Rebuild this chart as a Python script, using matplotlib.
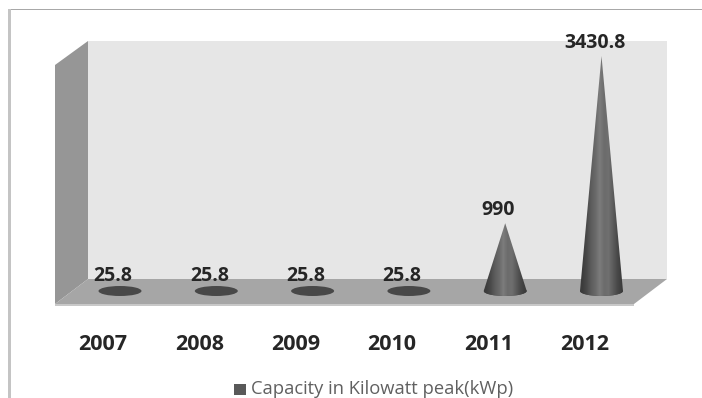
import matplotlib
matplotlib.use('Agg')
import matplotlib.pyplot as plt
import matplotlib.patches as patches
import matplotlib.colors as mcolors
import numpy as np

W, H = 702, 398

years = ['2007', '2008', '2009', '2010', '2011', '2012']
capacity = [25.8, 25.8, 25.8, 25.8, 990, 3430.8]
value_labels = ['25.8', '25.8', '25.8', '25.8', '990', '3430.8']
legend_label = 'Capacity in Kilowatt peak(kWp)'

# pixel layout of the fake 3d box
X0, DX = 120.0, 96.3     # first cone centre, spacing
Y0, YTOP = 291.0, 56.0   # zero level, level of the largest value
SCALE = (Y0 - YTOP) / 3430.8


def px(x, y):
    # pixel position to data position
    return (x - X0) / DX, (Y0 - y) / SCALE


def poly(ax, pts, color, z=1):
    ax.add_patch(patches.Polygon([px(*p) for p in pts], closed=True, facecolor=color,
                                 edgecolor='none', zorder=z))


def cone(ax, i, value):
    half_w = 21.5 / DX
    half_h = 5.0 / SCALE
    ax.add_patch(patches.Ellipse((i, 0), 2 * half_w, 2 * half_h, facecolor='#484848',
                                 edgecolor='none', zorder=3))
    if value < half_h:
        return  # only the flat base shows
    t = np.linspace(np.pi, 2 * np.pi, 40)
    verts = [(i + half_w * np.cos(a), half_h * np.sin(a)) for a in t] + [(i, value)]
    shape = patches.Polygon(verts, closed=True, facecolor='none', edgecolor='none', zorder=4)
    ax.add_patch(shape)
    im = ax.imshow(SHADE, cmap=CMAP, vmin=0, vmax=1, aspect='auto', zorder=4,
                   interpolation='bilinear',
                   extent=(i - half_w, i + half_w, -half_h, value))
    im.set_clip_path(shape)


SHADE = np.array([[0.0, 0.2, 0.5, 0.7, 1.0, 0.75, 0.8, 0.5, 0.2, 0.0]])
CMAP = mcolors.LinearSegmentedColormap.from_list('cone', ['#3c3c3c', '#7c7c7c'])

fig = plt.figure(figsize=(W / 100, H / 100), dpi=100)
ax = fig.add_axes([0, 0, 1, 1])
ax.axis('off')

# frame of the pasted picture
poly(ax, [(8, 9), (702, 9), (702, 10.5), (8, 10.5)], '#a8a8a8')
poly(ax, [(8, 9), (11, 9), (11, 398), (8, 398)], '#c4c4c4')

# walls and floor
poly(ax, [(88, 41), (667, 41), (667, 279), (88, 279)], '#e6e6e6')
poly(ax, [(55, 65), (88, 41), (88, 279), (55, 304)], '#969696')
poly(ax, [(55, 304), (88, 279), (667, 279), (634, 304)], '#a6a6a6')
poly(ax, [(55, 304), (634, 304), (634, 305.5), (55, 305.5)], '#c8c8c8')

for i, v in enumerate(capacity):
    cone(ax, i, v)
    ax.annotate(value_labels[i], (i, v), xytext=(-7, 13), textcoords='offset pixels',
                ha='center', va='center', fontsize=14, fontweight='bold',
                family='Open Sans', color='#262626', zorder=5)
    ax.annotate(years[i], (i, 0), xytext=(-17, -54), textcoords='offset pixels',
                ha='center', va='center', fontsize=15.5, fontweight='bold',
                family='Open Sans', color='#262626', zorder=5)

# legend
poly(ax, [(234, 384), (246, 384), (246, 395), (234, 395)], '#595959')
lx, ly = px(251, 388.5)
ax.text(lx, ly, legend_label, ha='left', va='center', fontsize=13.2, family='Open Sans',
        color='#606060')

ax.set_xlim(*[px(0, 0)[0], px(W, 0)[0]])
ax.set_ylim(*[px(0, H)[1], px(0, 0)[1]])

fig.savefig('out.png', dpi=100)
